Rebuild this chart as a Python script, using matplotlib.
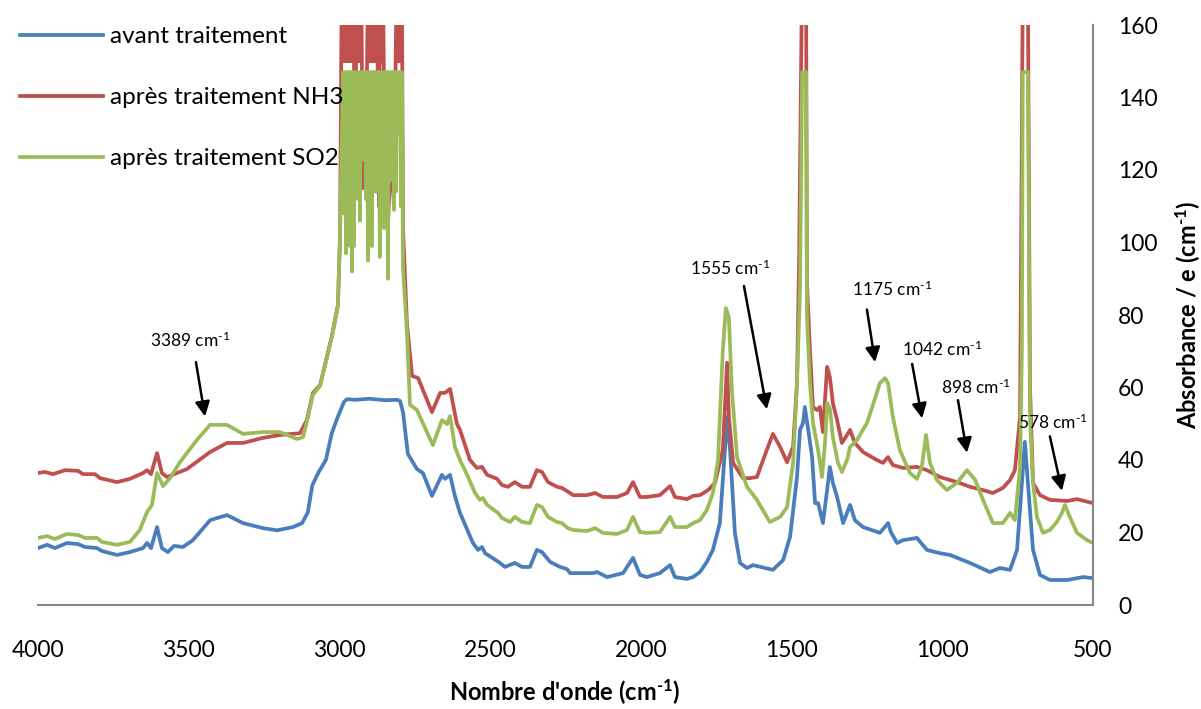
import matplotlib
matplotlib.use("Agg")
import matplotlib.pyplot as plt

plt.rcParams['font.family'] = ['Lato', 'DejaVu Sans']
plt.rcParams['mathtext.fontset'] = 'custom'
plt.rcParams['mathtext.rm'] = 'Lato'
plt.rcParams['mathtext.bf'] = 'Lato:bold'
plt.rcParams['mathtext.it'] = 'Lato:italic'

# spectra (wavenumber in cm-1, absorbance / e)
avant_wn = [4000, 3970, 3944, 3904, 3867, 3844, 3804, 3788, 3738, 3695, 3652, 3638, 3625, 3605,
            3589, 3569, 3549, 3519, 3486, 3429, 3373, 3320, 3254, 3207, 3154, 3124, 3105, 3090,
            3070, 3045, 3025, 3005, 2985, 2975, 2950, 2900, 2850, 2810, 2799, 2789, 2773, 2743,
            2723, 2693, 2660, 2650, 2633, 2617, 2600, 2557, 2540, 2527, 2517, 2467, 2451, 2418,
            2394, 2368, 2345, 2328, 2301, 2268, 2245, 2235, 2159, 2145, 2112, 2059, 2026, 2003,
            1980, 1937, 1903, 1887, 1847, 1827, 1804, 1781, 1761, 1738, 1721, 1714, 1704, 1688,
            1671, 1648, 1628, 1588, 1562, 1528, 1505, 1482, 1472, 1462, 1456, 1446, 1432, 1422,
            1412, 1396, 1382, 1373, 1363, 1349, 1329, 1306, 1290, 1263, 1207, 1180, 1170, 1150,
            1130, 1084, 1051, 1008, 974, 908, 842, 809, 775, 752, 736, 726, 716, 699, 676, 643,
            586, 533, 500]
avant_abs = [15.7, 16.6, 15.7, 17.1, 16.8, 16.0, 15.7, 14.9, 13.8, 14.6, 15.7, 17.1, 15.7, 21.5,
             15.7, 14.6, 16.3, 16.0, 17.9, 23.4, 24.8, 22.6, 21.2, 20.6, 21.5, 22.6, 25.5, 33.0,
             36.5, 40.0, 47.5, 52.0, 56.0, 56.8, 56.6, 56.9, 56.5, 56.6, 56.3, 53.2, 41.7, 37.5,
             36.4, 30.1, 35.9, 34.8, 35.9, 30.1, 25.4, 17.1, 15.2, 16.0, 14.3, 11.6, 10.5, 11.6,
             10.5, 10.5, 15.2, 14.6, 11.9, 10.5, 9.9, 8.8, 8.8, 9.1, 7.7, 8.8, 13.0, 8.3,
             7.7, 8.8, 11.0, 7.7, 7.2, 7.7, 9.1, 11.9, 15.2, 22.6, 42.8, 51.9, 42.8, 19.9,
             11.6, 10.2, 11.0, 10.2, 9.7, 12.4, 18.8, 35.3, 48.3, 50.2, 54.6, 49.1, 40.8, 28.1,
             28.1, 22.6, 31.7, 38.1, 33.7, 29.8, 22.6, 27.6, 23.4, 21.5, 19.9, 22.6, 20.0, 17.1,
             17.9, 18.5, 15.2, 14.3, 13.8, 11.6, 9.1, 10.2, 9.7, 15.2, 33.7, 45.0, 33.7, 15.2, 8.3, 6.9,
             6.9, 7.7, 7.4]

nh3_wn = [4000, 3977, 3950, 3910, 3867, 3851, 3811, 3794, 3738, 3695, 3652, 3638, 3625, 3605,
          3589, 3572, 3539, 3506, 3429, 3373, 3320, 3254, 3197, 3131, 3108, 3088, 3064, 3025,
          3005, 2998, 2992, 2988, 2985, 2982, 2978, 2975, 2972, 2968, 2965, 2962, 2958, 2955,
          2948, 2942, 2938, 2935, 2932, 2928, 2922, 2912, 2905, 2902, 2899, 2895, 2892, 2889,
          2886, 2882, 2879, 2876, 2869, 2865, 2859, 2856, 2849, 2839, 2829, 2819, 2810, 2806,
          2803, 2800, 2796, 2793, 2789, 2776, 2759, 2739, 2693, 2666, 2650, 2633, 2610, 2600,
          2567, 2544, 2527, 2510, 2477, 2461, 2441, 2418, 2394, 2368, 2345, 2328, 2308, 2278,
          2262, 2235, 2225, 2179, 2152, 2126, 2079, 2046, 2026, 2003, 1980, 1937, 1903, 1887,
          1847, 1827, 1804, 1777, 1754, 1728, 1714, 1708, 1694, 1661, 1638, 1615, 1582, 1562,
          1538, 1515, 1495, 1482, 1475, 1465, 1452, 1449, 1439, 1429, 1416, 1406, 1396, 1382,
          1373, 1363, 1349, 1333, 1316, 1306, 1290, 1263, 1217, 1197, 1180, 1164, 1130, 1084,
          1051, 1008, 951, 908, 865, 832, 799, 775, 759, 742, 739, 733, 716, 709, 699, 676,
          643, 586, 553, 500]
nh3_abs = [36.4, 36.7, 36.1, 37.2, 37.0, 36.1, 36.1, 35.0, 33.9, 34.8, 36.4, 37.2, 36.1, 41.9,
           36.4, 35.3, 36.4, 37.5, 42.2, 44.7, 44.7, 46.1, 46.9, 47.4, 51.0, 58.5, 60.7, 74.2,
           82.8, 101.5, 175, 150, 175, 150, 175, 150, 175, 150, 175, 150, 175, 175,
           120, 175, 150, 175, 150, 175, 115, 120, 175, 150, 175, 150, 175, 150,
           175, 150, 175, 175, 110, 175, 150, 175, 115, 105, 125, 110, 175, 150,
           175, 150, 175, 175, 103.7, 77.5, 63.2, 62.6, 53.2, 58.5, 58.5, 59.6, 49.9, 48.3,
           40.0, 37.8, 38.1, 35.9, 34.8, 33.1, 32.6, 33.9, 32.6, 32.6, 37.2, 36.7, 33.9, 32.6,
           32.3, 30.9, 30.3, 30.3, 30.9, 29.8, 29.8, 30.9, 33.9, 29.8, 29.8, 30.3, 32.8, 29.8,
           29.2, 30.1, 30.3, 31.7, 33.7, 42.8, 66.8, 51.9, 39.2, 35.0, 35.0, 35.3, 42.8, 47.2,
           43.6, 39.4, 43.6, 61.2, 95.2, 175, 175, 88.8, 70.3, 54.6, 53.8, 54.6, 47.7, 65.7,
           62.9, 55.7, 51.0, 44.7, 46.9, 48.3, 44.7, 42.2, 40.0, 39.2, 40.8, 38.6, 37.8, 38.1,
           37.2, 35.3, 33.9, 32.6, 31.7, 30.9, 32.3, 34.5, 37.2, 51.9, 93.0, 170, 170, 60.0, 33.7, 30.3,
           29.0, 28.7, 29.2, 28.1]

so2_wn = [4000, 3970, 3944, 3904, 3867, 3844, 3804, 3788, 3738, 3695, 3662, 3638, 3622, 3605,
          3585, 3562, 3529, 3473, 3429, 3373, 3320, 3254, 3197, 3141, 3121, 3108, 3088, 3064,
          3025, 3005, 2998, 2988, 2985, 2982, 2978, 2975, 2972, 2968, 2965, 2962, 2958, 2955,
          2952, 2948, 2945, 2942, 2938, 2935, 2932, 2928, 2925, 2922, 2919, 2915, 2912, 2909,
          2905, 2902, 2899, 2895, 2892, 2889, 2886, 2882, 2879, 2876, 2872, 2869, 2866, 2862,
          2859, 2856, 2852, 2849, 2846, 2843, 2839, 2836, 2833, 2829, 2826, 2823, 2819, 2816,
          2813, 2810, 2806, 2803, 2800, 2796, 2793, 2789, 2776, 2766, 2743, 2690, 2660, 2643,
          2633, 2617, 2600, 2577, 2550, 2534, 2524, 2510, 2474, 2461, 2434, 2418, 2394, 2368,
          2345, 2328, 2308, 2278, 2262, 2242, 2225, 2179, 2152, 2126, 2079, 2046, 2026, 2003,
          1980, 1937, 1903, 1887, 1847, 1827, 1804, 1781, 1761, 1744, 1728, 1718, 1708, 1698,
          1681, 1648, 1615, 1572, 1538, 1515, 1495, 1482, 1472, 1465, 1452, 1449, 1439, 1429,
          1412, 1399, 1389, 1382, 1373, 1363, 1346, 1333, 1316, 1306, 1283, 1250, 1230, 1207,
          1190, 1180, 1164, 1141, 1107, 1084, 1068, 1054, 1041, 1018, 985, 951, 918, 891,
          865, 832, 799, 775, 759, 742, 736, 733, 716, 709, 699, 686, 666, 643,
          620, 603, 593, 577, 553, 520, 500]
so2_abs = [18.5, 19.0, 18.2, 19.6, 19.3, 18.5, 18.5, 17.4, 16.6, 17.4, 20.7, 25.7, 27.6, 36.4,
           32.8, 35.0, 39.4, 45.5, 49.7, 49.7, 47.2, 47.7, 47.7, 45.8, 46.3, 50.5, 58.0, 60.5,
           74.0, 82.5, 102, 147, 108, 147, 97, 147, 100, 147, 99, 147, 92, 147,
           99, 147, 118, 147, 112, 147, 106, 147, 130, 147, 123, 147, 112, 147,
           95, 147, 105, 147, 99, 147, 120, 147, 114, 147, 119, 147, 96, 147,
           106, 147, 104, 147, 112, 147, 90, 147, 117, 147, 125, 147, 109, 147,
           114, 147, 130, 147, 147, 110, 147, 93, 75.3, 55.2, 53.8, 44.1, 51.0, 49.9,
           52.1, 43.6, 40.0, 36.0, 30.9, 29.0, 29.5, 27.6, 25.4, 24.0, 22.9, 24.3, 22.9, 22.6,
           27.6, 27.0, 24.3, 22.9, 22.6, 21.2, 20.7, 20.4, 21.2, 19.9, 19.6, 20.7, 24.3, 20.1,
           19.9, 20.1, 24.3, 21.5, 21.5, 22.6, 23.4, 26.2, 30.9, 40.0, 70.3, 81.9, 79.4, 59.3,
           40.8, 32.6, 29.0, 22.9, 24.3, 27.0, 39.2, 61.2, 86.9, 147, 147, 79.4, 61.2, 50.2,
           42.8, 35.3, 44.7, 55.7, 54.3, 46.3, 39.2, 36.7, 40.0, 43.6, 45.5, 50.2, 55.2, 61.2,
           62.6, 61.2, 51.9, 42.8, 36.4, 34.8, 38.1, 46.9, 39.2, 34.5, 31.7, 33.7, 37.2, 34.5,
           29.0, 22.6, 22.6, 25.4, 23.4, 38.1, 70.3, 147, 147, 51.9, 33.7, 24.3, 19.9, 20.7,
           22.9, 25.4, 27.6, 24.3, 19.9, 17.9, 17.1]

labels = ['avant traitement', 'après traitement NH3', 'après traitement SO2']
colors = ['#4A7EBB', '#C0504D', '#9BBB59']

# peak labels: text, text position, arrow start, arrow tip (data coords)
peaks = [
    ('3389', (3496, 73), (3476, 67), (3446, 52)),
    ('1555', (1704, 93), (1658, 88), (1582, 54)),
    ('1175', (1167, 87), (1250, 81.5), (1223, 67)),
    ('1042', (1001, 70.5), (1100, 66.5), (1067, 51.5)),
    ('898', (888, 60), (948, 56.5), (918, 42)),
    ('578', (633, 50.5), (643, 46.5), (603, 31.5)),
]

HY = '\u2010'  # plain hyphen in the superscript, as in the original
sup = r'$^{\mathrm{' + HY + r'1}}$'
supbf = r'$^{\mathbf{' + HY + r'1}}$'

fig = plt.figure(figsize=(12.01, 7.09), dpi=100)
ax = fig.add_axes([38 / 1201, 104 / 709, 1055 / 1201, 580 / 709])

for wn, ab, lab, c in zip([avant_wn, nh3_wn, so2_wn], [avant_abs, nh3_abs, so2_abs], labels, colors):
    ax.plot(wn, ab, color=c, lw=2.7, label=lab)

ax.set_xlim(4000, 500)
ax.set_ylim(0, 160)
ax.set_xticks(range(4000, 499, -500))
ax.set_yticks(range(0, 161, 20))
ax.yaxis.tick_right()
ax.tick_params(length=0, labelsize=16.5)
ax.tick_params(axis='y', pad=18)
ax.tick_params(axis='x', pad=25)
for s in ['left', 'top']:
    ax.spines[s].set_visible(False)
for s in ['bottom', 'right']:
    ax.spines[s].set_color('#868686')
    ax.spines[s].set_linewidth(1.5)

for num, txt_xy, start, tip in peaks:
    ax.text(txt_xy[0], txt_xy[1], num + ' cm' + sup, fontsize=12.5,
            ha='center', va='center')
    ax.annotate('', xy=tip, xytext=start,
                arrowprops=dict(arrowstyle='-|>', color='black', lw=1.8,
                                mutation_scale=22, shrinkA=0, shrinkB=0))

fig.text(565 / 1201, 1 - 692 / 709, "Nombre d'onde (cm" + supbf + ")",
         fontsize=17, fontweight='bold', ha='center', va='center')
fig.text(1188 / 1201, 1 - 315 / 709, "Absorbance / e (cm" + supbf + ")",
         fontsize=17, fontweight='bold', ha='center', va='center', rotation=90)

ax.legend(loc='upper left', bbox_to_anchor=(20 / 1201, 1 - 26 / 709),
          bbox_transform=fig.transFigure, frameon=False, fontsize=17.5,
          handlelength=3.4, handletextpad=0.3, labelspacing=1.65,
          borderpad=0, borderaxespad=0)

fig.savefig('out.png', dpi=100)
